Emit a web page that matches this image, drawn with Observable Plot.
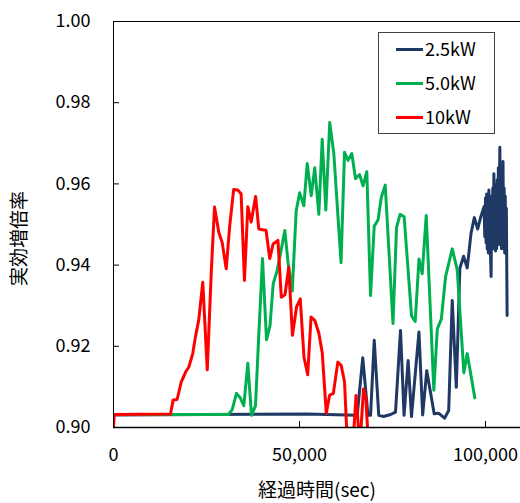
<!DOCTYPE html>
<html><head><meta charset="utf-8">
<script src="https://cdn.jsdelivr.net/npm/d3@7"></script>
<script src="https://cdn.jsdelivr.net/npm/@observablehq/plot@0.6"></script>
<style>body{margin:0;background:#fff} #chart{width:520px;height:503px}</style>
</head><body><div id="chart"></div>
<script>
const seriesNames = ["2.5kW", "5.0kW", "10kW"];
const seriesColors = ["#1F3864", "#00B050", "#FF0000"];
const xTicks = [0, 50000, 100000];
const yTicks = [0.90, 0.92, 0.94, 0.96, 0.98, 1.00];
const xTitle = "経過時間(sec)";
const yTitle = "実効増倍率";

const t25 = [0, 51900, 65500, 67000, 68400, 69100, 70080, 71300, 72600, 74500, 75800, 77150, 78100, 79200, 80100, 82100, 83100, 84200, 86200, 87450, 89000, 90100, 91050, 92150, 93100, 94100, 95080, 96100, 96990, 97900, 98700, 99600,
  99800, 100000, 100150, 100300, 100450, 100600, 100750, 100900, 101050, 101200, 101350, 101500, 101650, 101800, 101950, 102100, 102250, 102400, 102550, 102700, 102850, 103000, 103150, 103300, 103450, 103600, 103850, 104000, 104150, 104300, 104450, 104600, 104700, 104850, 105000, 105150, 105300, 105450, 105600, 105800];
const v25 = [0.9031, 0.9033, 0.9030, 0.9172, 0.9030, 0.9030, 0.9215, 0.9030, 0.9027, 0.9032, 0.9038, 0.9239, 0.9030, 0.9165, 0.9027, 0.9235, 0.9031, 0.9140, 0.9034, 0.9035, 0.9023, 0.9042, 0.9313, 0.9099, 0.9392, 0.9422, 0.9393, 0.9478, 0.9517, 0.9489, 0.9518, 0.9544,
  0.9470, 0.9565, 0.9455, 0.9575, 0.9440, 0.9560, 0.9430, 0.9585, 0.9445, 0.9570, 0.9425, 0.9372, 0.9560, 0.9450, 0.9590, 0.9440, 0.9625, 0.9455, 0.9600, 0.9435, 0.9575, 0.9440, 0.9610, 0.9450, 0.9640, 0.9460, 0.9690, 0.9450, 0.9630, 0.9440, 0.9600, 0.9450, 0.9655, 0.9440, 0.9590, 0.9430, 0.9570, 0.9445, 0.9540, 0.9276];

const t50 = [0, 30900, 31900, 33060, 34000, 35030, 36100, 37100, 38170, 38980, 40050, 41130, 42070, 42930, 44000, 44900, 46050, 46960, 48040, 49110, 50050, 51160, 52070, 53150, 54090, 55190, 56100, 57070, 58120, 59220, 61160, 62100, 63040, 64060, 65050, 66130, 67070, 68090, 69090, 70080, 71100, 71990, 73040, 75130, 76080, 77040, 78120, 80110, 81100, 82120, 82980, 84060, 86100, 87040, 88120, 89250, 91050, 92390, 94170, 95080, 97120];
const v50 = [0.9032, 0.9032, 0.9044, 0.9084, 0.9074, 0.9054, 0.9158, 0.9030, 0.9054, 0.9214, 0.9416, 0.9216, 0.9251, 0.9354, 0.9387, 0.9429, 0.9485, 0.9403, 0.9336, 0.9534, 0.9578, 0.9546, 0.9650, 0.9571, 0.9640, 0.9525, 0.9710, 0.9536, 0.9751, 0.9675, 0.9406, 0.9678, 0.9658, 0.9675, 0.9613, 0.9623, 0.9595, 0.9630, 0.9325, 0.9496, 0.9511, 0.9567, 0.9597, 0.9256, 0.9493, 0.9525, 0.9519, 0.9275, 0.9261, 0.9415, 0.9379, 0.9522, 0.9092, 0.9243, 0.9267, 0.9371, 0.9440, 0.9389, 0.9135, 0.9182, 0.9073];

const t10 = [0, 200, 15300, 16050, 17100, 18200, 19350, 20250, 21300, 22000, 22900, 24000, 25200, 26300, 27150, 28300, 29200, 30300, 31250, 32300, 33400, 34300, 35200, 36100, 37000, 38200, 39050, 40000, 41000, 42000, 42900, 44200, 45100, 46100, 47100, 48100, 49200, 50200, 51200, 52200, 53100, 54100, 55200, 56100, 57200, 58100, 59100, 60300, 61200, 62100, 63000, 64300, 65200, 66200, 67200, 67800, 68600];
const v10 = [0.900, 0.9032, 0.9033, 0.9068, 0.9069, 0.9112, 0.9136, 0.9149, 0.9182, 0.9222, 0.9264, 0.9358, 0.9142, 0.9387, 0.9543, 0.9481, 0.9456, 0.9391, 0.9498, 0.9586, 0.9585, 0.9576, 0.9362, 0.9544, 0.9506, 0.9569, 0.9489, 0.9487, 0.9486, 0.9416, 0.9452, 0.9461, 0.9321, 0.9327, 0.9395, 0.9227, 0.9297, 0.9317, 0.9173, 0.9130, 0.9272, 0.9264, 0.9232, 0.9185, 0.9035, 0.9080, 0.9084, 0.9161, 0.9153, 0.9112, 0.893, 0.895, 0.9079, 0.895, 0.9095, 0.9074, 0.895];

const times = [t25, t50, t10];
const values = [v25, v50, v10];
const rows = [];
seriesNames.forEach((name, i) => times[i].forEach((t, j) => rows.push({series: name, t, v: values[i][j]})));

const fontLatin = "'Noto Sans CJK JP', 'Noto Sans', sans-serif";

const chart = Plot.plot({
  width: 520, height: 503,
  marginTop: 21, marginRight: 0, marginBottom: 76, marginLeft: 113,
  style: {fontFamily: fontLatin, fontSize: "18px", color: "#000", background: "#fff"},
  x: {domain: [0, 109400]},
  y: {domain: [0.90, 1.00]},
  color: {domain: seriesNames, range: seriesColors},
  marks: [
    Plot.axisX(xTicks, {tickSize: 0, tickPadding: 21, tickFormat: d3.format(","), label: null, fontSize: 18}),
    Plot.axisY(yTicks, {tickSize: 0, tickPadding: 23, tickFormat: d3.format(".2f"), label: null, fontSize: 18}),
    Plot.tickX(xTicks, {x: d => d, insetTop: 400, stroke: "#000"}),
    Plot.tickY(yTicks, {y: d => d, insetRight: 401, stroke: "#000"}),
    Plot.line(rows, {x: "t", y: "v", stroke: "series", z: "series", strokeWidth: 3, clip: true}),
    Plot.ruleY([1.0], {stroke: "#000"}),
    Plot.ruleX([0], {stroke: "#000"}),
    Plot.ruleY([0.9], {stroke: "#000", strokeWidth: 1.5}),
    Plot.text([yTitle], {frameAnchor: "left", textAnchor: "middle", lineAnchor: "middle", rotate: -90, dx: -94, dy: 14, fontSize: 19}),
    Plot.text([xTitle], {frameAnchor: "bottom", textAnchor: "middle", lineAnchor: "middle", dy: 63, fontSize: 19})
  ]
});

const svg = d3.select(chart);
const lg = svg.append("g").attr("text-anchor", "start");
lg.append("rect").attr("x", 378.5).attr("y", 32.5).attr("width", 116).attr("height", 101)
  .attr("fill", "#fff").attr("stroke", "#404040");
seriesNames.forEach((n, i) => {
  const cy = 49.5 + i * 34;
  lg.append("line").attr("x1", 396).attr("x2", 423).attr("y1", cy).attr("y2", cy)
    .attr("stroke", seriesColors[i]).attr("stroke-width", 3);
  lg.append("text").attr("x", 425).attr("y", cy).attr("dy", "0.35em").attr("text-anchor", "start")
    .attr("font-family", fontLatin).attr("font-size", 18).attr("fill", "#000").text(n);
});
document.getElementById("chart").appendChild(chart);
</script></body></html>
